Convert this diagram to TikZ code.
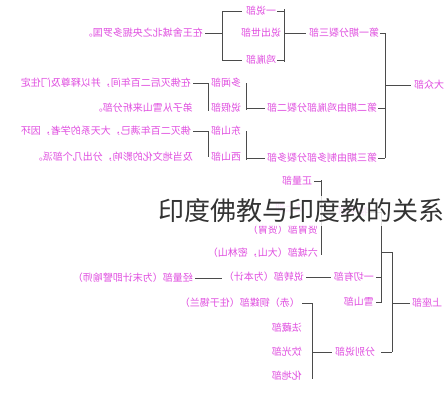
\documentclass[tikz,border=0pt]{standalone}
\usepackage{fontspec}
\setmainfont{Noto Sans CJK SC}
\usetikzlibrary{calc}
\definecolor{txt}{RGB}{224,78,224}
\definecolor{ln}{RGB}{75,75,75}
\tikzset{
  lbl/.style={text=txt,font=\fontsize{10}{11}\selectfont,inner sep=0pt},
  conn/.style={draw=ln,line width=0.85pt},
}
\newcommand{\mir}[1]{\reflectbox{#1}}
\begin{document}
\begin{tikzpicture}[x=1pt,y=-1pt]
\useasboundingbox[fill=white] (0,0) rectangle (444,400);

% ---------- top: Mahasanghika ----------
\node[lbl,anchor=east] (t1) at (203,33) {\mir{在王舍城北之央掘多罗国。}};
\node[lbl] (a1) at (261,11) {\mir{一说部}};
\node[lbl] (a2) at (261,33) {\mir{说出世部}};
\node[lbl] (a3) at (261,60) {\mir{鸡胤部}};
\node[lbl,anchor=west] (p1) at (309,33) {\mir{第一期分裂三部}};
\node[lbl,anchor=west] (mah) at (414,85) {\mir{大众部}};

\coordinate (b1t) at (222,11);
\coordinate (b1m) at (222,33);
\coordinate (b1b) at (222,60);
\draw[conn] ([xshift=-4pt]a1.west) -- (b1t) -- (b1b) -- ([xshift=-4pt]a3.west);
\draw[conn] ([xshift=2pt]t1.east) -- (b1m);

\coordinate (b2t) at (284,9);
\coordinate (b2m) at (284,33);
\coordinate (b2b) at (284,62);
\draw[conn] (b2t) -- (b2b);
\draw[conn] ([xshift=1pt]a1.east) -- (a1.east -| b2t);
\draw[conn] ([xshift=1pt]a3.east) -- (a3.east -| b2t);
\draw[conn] (b2m) -- ([xshift=-3pt]p1.west);

\coordinate (v1t) at (385,33);
\coordinate (v1b) at (385,158);
\draw[conn] (v1t) -- (v1b);
\draw[conn] ([xshift=1pt]p1.east) -- (p1.east -| v1t);
\draw[conn] (v1t |- mah.west) -- ([xshift=-3pt]mah.west);

% second period
\node[lbl,anchor=east] (d1) at (191,83) {\mir{在佛灭后二百年间，并以释尊及门住定}};
\node[lbl,anchor=east] (d2) at (193,108) {\mir{弟子从雪山来析分部。}};
\node[lbl] (m1) at (226,83) {\mir{多闻部}};
\node[lbl] (m2) at (226,108) {\mir{说假部}};
\node[lbl,anchor=west] (p2) at (267,108) {\mir{第二期由鸡胤部分裂二部}};
\coordinate (e1t) at (208,83);
\coordinate (e1b) at (208,111);
\draw[conn] ([xshift=2pt]d1.east) -- (e1t) -- (e1b);
\coordinate (f1t) at (246,83);
\coordinate (f1b) at (246,110);
\draw[conn] (f1t) -- (f1b);
\draw[conn] (f1t |- p2.west) -- ([xshift=-2pt]p2.west);
\draw[conn] ([xshift=1pt]p2.east) -- (p2.east -| v1t);

% third period
\node[lbl,anchor=east] (d3) at (191,131) {\mir{佛灭二百年满已，大天系的学者，因环}};
\node[lbl,anchor=east] (d4) at (193,157) {\mir{及当地文化的影响，分出几个部派。}};
\node[lbl] (m3) at (226,131) {\mir{东山部}};
\node[lbl] (m4) at (226,157) {\mir{西山部}};
\node[lbl,anchor=west] (p3) at (267,158) {\mir{第三期由制多部分裂多部}};
\coordinate (e2t) at (208,131);
\coordinate (e2b) at (208,157);
\draw[conn] ([xshift=2pt]d3.east) -- (e2t) -- (e2b);
\coordinate (f2t) at (246,131);
\coordinate (f2b) at (246,160);
\draw[conn] (f2t) -- (f2b);
\draw[conn] (f2t |- p3.west) -- ([xshift=-2pt]p3.west);
\draw[conn] ([xshift=1pt]p3.east) -- (p3.east -| v1t);

% ---------- bottom: Sthavira ----------
\node[lbl] (s1) at (297,181) {\mir{正量部}};
\node[lbl] (s2) at (290,208) {\mir{法上部}};
\node[lbl,anchor=east] (s3) at (318,230) {\mir{贤胄部（贤胄）}};
\node[lbl,anchor=east] (s4) at (318,253) {\mir{六城部（大山，密林山）}};
\node[lbl] (s5) at (353,212) {\mir{犊子部}};
\coordinate (c1t) at (321,180);
\coordinate (c1b) at (321,255);
\draw[conn] (c1t) -- (c1b);
\draw[conn] ([xshift=2pt]s1.east) -- (s1.east -| c1t);
\draw[conn] (c1t |- s5.west) -- ([xshift=-2pt]s5.west);

\coordinate (c2t) at (381,212);
\coordinate (c2m) at (381,252);
\coordinate (c2b) at (381,303);
\draw[conn] ([xshift=2pt]s5.east) -- (c2t) -- (c2b);

\node[lbl,anchor=east] (q1) at (374,277) {\mir{一切有部}};
\node[lbl,anchor=east] (q2) at (374,302) {\mir{雪山部}};
\node[lbl,anchor=east] (q3) at (304,277) {\mir{说转部（为本计）}};
\node[lbl,anchor=east] (q4) at (193,278) {\mir{经量部（为末计即譬喻师）}};
\draw[conn] ([xshift=2pt]q4.east) -- ([xshift=-2pt]q3.west |- q4.east);
\draw[conn] ([xshift=2pt]q3.east) -- ([xshift=-3pt]q1.west);
\draw[conn] ([xshift=2pt]q1.east) -- (q1.east -| c2t);
\draw[conn] ([xshift=2pt]q2.east) -- (q2.east -| c2t);

\coordinate (c3t) at (392,252);
\coordinate (c3b) at (392,352);
\node[lbl,anchor=west] (u) at (412,303) {\mir{上座部}};
\draw[conn] (c2m) -- (c3t) -- (c3b);
\draw[conn] (c3t |- u.west) -- ([xshift=-2pt]u.west);

\node[lbl,anchor=west] (r5) at (335,352) {\mir{分别说部}};
\draw[conn] ([xshift=6pt]r5.east) -- (c3b);
\node[lbl,anchor=east] (r1) at (300,303) {\mir{（赤）铜鍱部（住于锡兰）}};
\node[lbl,anchor=east] (r2) at (302,328) {\mir{法藏部}};
\node[lbl,anchor=east] (r3) at (302,352) {\mir{饮光部}};
\node[lbl,anchor=east] (r4) at (302,376) {\mir{化地部}};
\coordinate (c4t) at (312,303);
\coordinate (c4b) at (312,379);
\draw[conn] (c4t) -- (c4b);
\draw[conn] ([xshift=2pt]r1.east) -- (c4t);
\draw[conn] (c4t |- r3.east) -- ([xshift=-3pt]r5.west);

% ---------- title overlay ----------
\node[anchor=west,font=\fontsize{26}{28}\selectfont,text=black!80,
      fill=white,fill opacity=0.85,text opacity=1,inner xsep=1pt,inner ysep=3pt]
      (title) at (157,211) {印度佛教与印度教的关系};
\end{tikzpicture}
\end{document}
